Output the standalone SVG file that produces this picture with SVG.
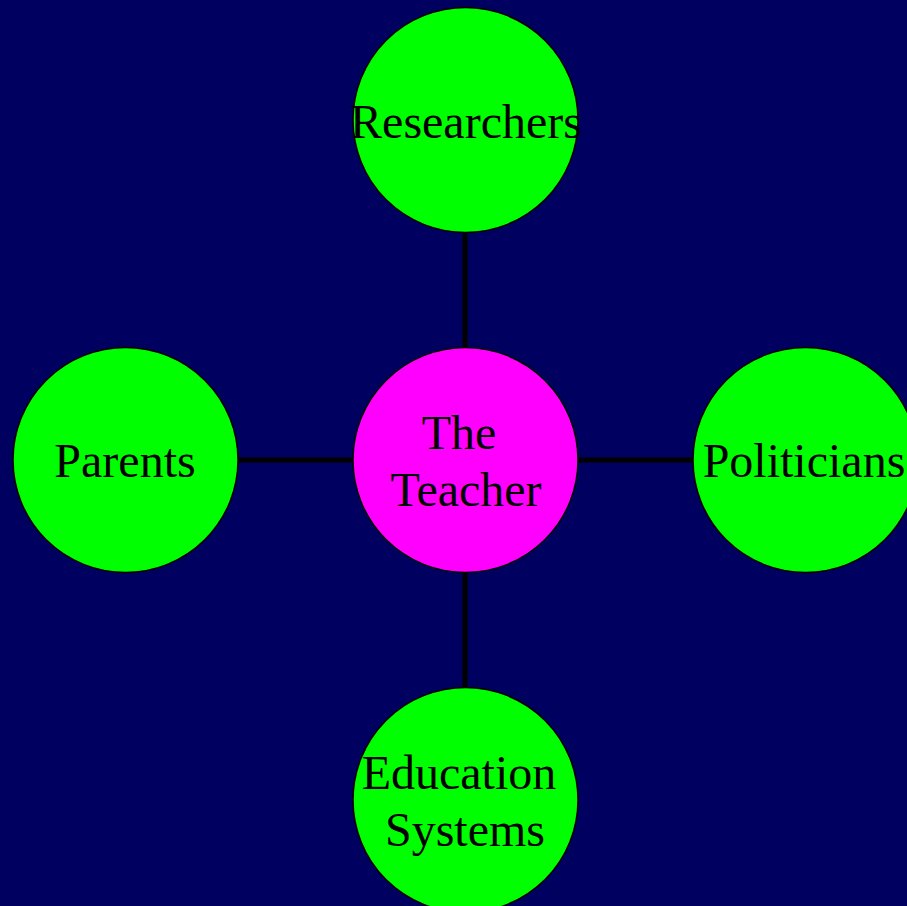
<svg xmlns="http://www.w3.org/2000/svg" width="907" height="906" viewBox="0 0 907 906">
  <style>
    .node circle { stroke: #000; stroke-width: 1.5; }
    .outer circle { fill: #00ff00; }
    .hub circle { fill: #ff00ff; }
    .node text { font-family: "Liberation Serif", "Times New Roman", serif; font-size: 48px; fill: #000; text-anchor: middle; }
    .link { stroke: #000; stroke-width: 5; }
  </style>
  <rect width="907" height="906" fill="#000060"/>
  <g id="connectors">
    <line class="link" x1="465" y1="232" x2="465" y2="347"/>
    <line class="link" x1="465" y1="572" x2="465" y2="687"/>
    <line class="link" x1="238" y1="460" x2="353" y2="460"/>
    <line class="link" x1="578" y1="460" x2="693" y2="460"/>
  </g>
  <g id="researchers" class="node outer">
    <circle cx="465.5" cy="120" r="112.5"/>
    <text x="466" y="138">Researchers</text>
  </g>
  <g id="teacher" class="node hub">
    <circle cx="465.5" cy="460" r="112.5"/>
    <text x="459" y="449">The</text>
    <text x="466" y="506">Teacher</text>
  </g>
  <g id="parents" class="node outer">
    <circle cx="125.5" cy="460" r="112.5"/>
    <text x="125" y="477">Parents</text>
  </g>
  <g id="politicians" class="node outer">
    <circle cx="805.5" cy="460" r="112.5"/>
    <text x="804" y="477">Politicians</text>
  </g>
  <g id="education-systems" class="node outer">
    <circle cx="465.5" cy="800" r="112.5"/>
    <text x="459" y="789">Education</text>
    <text x="465" y="846">Systems</text>
  </g>
</svg>
